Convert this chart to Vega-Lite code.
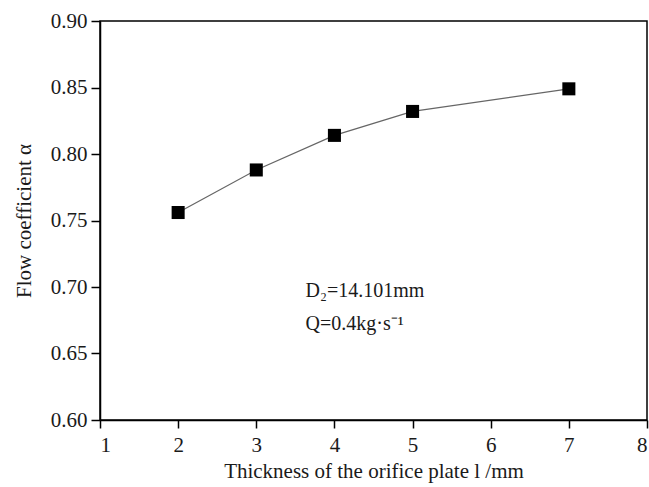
{
  "$schema": "https://vega.github.io/schema/vega-lite/v6.json",
  "width": 547,
  "height": 399,
  "autosize": "none",
  "padding": {"left": 100, "top": 21, "right": 2, "bottom": 67},
  "background": "white",
  "config": {
    "font": "Liberation Serif",
    "view": {"stroke": "black", "strokeWidth": 1.5},
    "axis": {
      "domainColor": "black", "domainWidth": 1.5,
      "tickColor": "black", "tickWidth": 1.5,
      "labelColor": "#1a1a1a", "titleColor": "#1a1a1a",
      "labelFont": "Liberation Serif", "titleFont": "Liberation Serif",
      "labelFontSize": 21, "titleFontSize": 21, "titleFontWeight": "normal",
      "grid": false
    }
  },
  "datasets": {
    "points": [
      {"thickness": 2, "alpha": 0.756},
      {"thickness": 3, "alpha": 0.788},
      {"thickness": 4, "alpha": 0.814},
      {"thickness": 5, "alpha": 0.832},
      {"thickness": 7, "alpha": 0.849}
    ],
    "notes": [
      {"thickness": 3.63, "alpha": 0.697, "label": "D₂=14.101mm"},
      {"thickness": 3.63, "alpha": 0.672, "label": "Q=0.4kg·s⁻¹"}
    ]
  },
  "layer": [
    {
      "data": {"name": "points"},
      "mark": {"type": "line", "color": "#666", "strokeWidth": 1.3},
      "encoding": {
        "x": {
          "field": "thickness", "type": "quantitative",
          "scale": {"domain": [1, 8], "nice": false, "zero": false},
          "axis": {
            "title": "Thickness of the orifice plate  l /mm",
            "values": [1, 1.5, 2, 2.5, 3, 3.5, 4, 4.5, 5, 5.5, 6, 6.5, 7, 7.5, 8],
            "labelExpr": "datum.value % 1 === 0 ? datum.value : ''",
            "tickSize": {"condition": {"test": "datum.value % 1 !== 0", "value": 4}, "value": 8},
            "labelPadding": 6,
            "titlePadding": 5
          }
        },
        "y": {
          "field": "alpha", "type": "quantitative",
          "scale": {"domain": [0.6, 0.9], "nice": false, "zero": false},
          "axis": {
            "title": "Flow coefficient  α",
            "values": [0.6, 0.625, 0.65, 0.675, 0.7, 0.725, 0.75, 0.775, 0.8, 0.825, 0.85, 0.875, 0.9],
            "labelExpr": "round(datum.value*1000) % 50 === 0 ? format(datum.value, '.2f') : ''",
            "tickSize": {"condition": {"test": "round(datum.value*1000) % 50 !== 0", "value": 4}, "value": 9},
            "labelPadding": 4,
            "titlePadding": 16
          }
        }
      }
    },
    {
      "data": {"name": "points"},
      "mark": {"type": "point", "shape": "square", "filled": true, "color": "black", "size": 170, "opacity": 1},
      "encoding": {
        "x": {"field": "thickness", "type": "quantitative"},
        "y": {"field": "alpha", "type": "quantitative"}
      }
    },
    {
      "data": {"name": "notes"},
      "mark": {"type": "text", "align": "left", "baseline": "middle", "fontSize": 20, "font": "Liberation Serif", "color": "#1a1a1a"},
      "encoding": {
        "x": {"field": "thickness", "type": "quantitative"},
        "y": {"field": "alpha", "type": "quantitative"},
        "text": {"field": "label"}
      }
    }
  ]
}
